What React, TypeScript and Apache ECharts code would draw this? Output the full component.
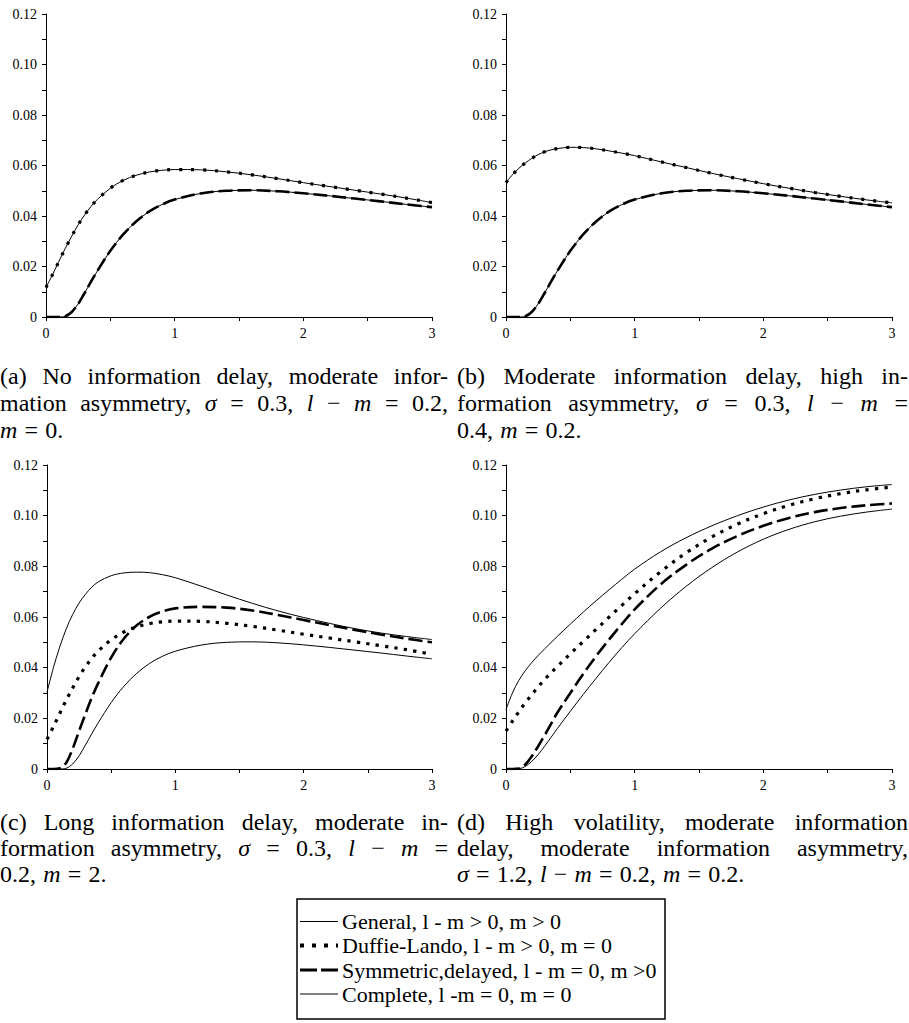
import React, { useEffect, useRef } from "react";
import * as echarts from "echarts";

// ---------- data ----------
const xs = [0, 0.05, 0.1, 0.15, 0.2, 0.25, 0.3, 0.35, 0.4, 0.5, 0.6, 0.7, 0.8, 0.9, 1.0, 1.2, 1.4, 1.6, 1.8, 2.0, 2.2, 2.4, 2.6, 2.8, 3.0];

const xTickLabels = ["0", "1", "2", "3"];
const yTickLabels = ["0", "0.02", "0.04", "0.06", "0.08", "0.10", "0.12"];

// Panel (a)
const aGeneral = [0.0117, 0.0167, 0.022, 0.0272, 0.032, 0.0365, 0.0404, 0.0438, 0.0466, 0.051, 0.0541, 0.0561, 0.0574, 0.0581, 0.0584, 0.0583, 0.0575, 0.0563, 0.0548, 0.0532, 0.0517, 0.0502, 0.0487, 0.0471, 0.0453];
const aDuffie = [0.0117, 0.0167, 0.022, 0.0272, 0.032, 0.0365, 0.0404, 0.0438, 0.0466, 0.051, 0.0541, 0.0561, 0.0574, 0.0581, 0.0584, 0.0583, 0.0575, 0.0563, 0.0548, 0.0532, 0.0517, 0.0502, 0.0487, 0.0471, 0.0453];
const aSymmetric = [0, 0, 0, 0.0003, 0.002, 0.0052, 0.0095, 0.014, 0.0183, 0.0262, 0.0327, 0.0378, 0.0417, 0.0445, 0.0465, 0.0489, 0.05, 0.0502, 0.0498, 0.049, 0.048, 0.0469, 0.0458, 0.0446, 0.0435];
const aComplete = [0, 0, 0, 0.0003, 0.002, 0.0052, 0.0095, 0.014, 0.0183, 0.0262, 0.0327, 0.0378, 0.0417, 0.0445, 0.0465, 0.0489, 0.05, 0.0502, 0.0498, 0.049, 0.048, 0.0469, 0.0458, 0.0446, 0.0435];

// Panel (b)
const bGeneral = [0.0533, 0.0563, 0.0589, 0.061, 0.0628, 0.0643, 0.0654, 0.0662, 0.0667, 0.0672, 0.0671, 0.0666, 0.0658, 0.0649, 0.0639, 0.0615, 0.0592, 0.0569, 0.0548, 0.0528, 0.051, 0.0493, 0.0478, 0.0464, 0.0452];
const bDuffie = [0.0533, 0.0563, 0.0589, 0.061, 0.0628, 0.0643, 0.0654, 0.0662, 0.0667, 0.0672, 0.0671, 0.0666, 0.0658, 0.0649, 0.0639, 0.0615, 0.0592, 0.0569, 0.0548, 0.0528, 0.051, 0.0493, 0.0478, 0.0464, 0.0452];
const bSymmetric = [0, 0, 0, 0.0003, 0.002, 0.0052, 0.0095, 0.014, 0.0183, 0.0262, 0.0327, 0.0378, 0.0417, 0.0445, 0.0465, 0.0489, 0.05, 0.0502, 0.0498, 0.049, 0.048, 0.0469, 0.0458, 0.0446, 0.0435];
const bComplete = [0, 0, 0, 0.0003, 0.002, 0.0052, 0.0095, 0.014, 0.0183, 0.0262, 0.0327, 0.0378, 0.0417, 0.0445, 0.0465, 0.0489, 0.05, 0.0502, 0.0498, 0.049, 0.048, 0.0469, 0.0458, 0.0446, 0.0435];

// Panel (c)
const cGeneral = [0.0303, 0.04, 0.0483, 0.0553, 0.061, 0.0655, 0.069, 0.0718, 0.0739, 0.0763, 0.0774, 0.0777, 0.0775, 0.0767, 0.0755, 0.0722, 0.0687, 0.0654, 0.0624, 0.0598, 0.0575, 0.0554, 0.0537, 0.0523, 0.0511];
const cDuffie = [0.0117, 0.0167, 0.022, 0.0272, 0.032, 0.0365, 0.0404, 0.0438, 0.0466, 0.051, 0.0541, 0.0561, 0.0574, 0.0581, 0.0584, 0.0583, 0.0575, 0.0563, 0.0548, 0.0532, 0.0517, 0.0502, 0.0487, 0.0471, 0.0453];
const cSymmetric = [0, 0, 0.0003, 0.0025, 0.008, 0.015, 0.0218, 0.0283, 0.034, 0.044, 0.0515, 0.0567, 0.0601, 0.0622, 0.0634, 0.064, 0.0637, 0.0626, 0.0608, 0.0588, 0.0568, 0.0549, 0.0531, 0.0515, 0.05];
const cComplete = [0, 0, 0, 0.0003, 0.002, 0.0052, 0.0095, 0.014, 0.0183, 0.0262, 0.0327, 0.0378, 0.0417, 0.0445, 0.0465, 0.0489, 0.05, 0.0502, 0.0498, 0.049, 0.048, 0.0469, 0.0458, 0.0446, 0.0435];

// Panel (d)
const dGeneral = [0.0235, 0.03, 0.035, 0.0388, 0.042, 0.0448, 0.0474, 0.0499, 0.0524, 0.0572, 0.0619, 0.0664, 0.0707, 0.0749, 0.0789, 0.0857, 0.0913, 0.096, 0.1, 0.1034, 0.1062, 0.1084, 0.1101, 0.1114, 0.1123];
const dDuffie = [0.015, 0.0189, 0.0226, 0.0261, 0.0293, 0.0324, 0.0353, 0.038, 0.0405, 0.0455, 0.0503, 0.0551, 0.0599, 0.0646, 0.0692, 0.0778, 0.0853, 0.0916, 0.0967, 0.1008, 0.1041, 0.1067, 0.1087, 0.1102, 0.1113];
const dSymmetric = [0, 0, 0.0002, 0.0018, 0.005, 0.009, 0.0133, 0.0178, 0.0223, 0.03, 0.0375, 0.0445, 0.051, 0.0572, 0.063, 0.0728, 0.0806, 0.087, 0.092, 0.096, 0.0991, 0.1014, 0.103, 0.1041, 0.1048];
const dComplete = [0, 0, 0.0001, 0.001, 0.003, 0.0057, 0.009, 0.0125, 0.016, 0.0228, 0.0294, 0.0358, 0.042, 0.0479, 0.0534, 0.0634, 0.0721, 0.0795, 0.0857, 0.0907, 0.0946, 0.0976, 0.0998, 0.1014, 0.1026];

const seriesNames = ["General, l - m > 0, m > 0", "Duffie-Lando, l - m > 0, m = 0", "Symmetric,delayed, l - m = 0, m >0", "Complete, l -m = 0, m = 0"];

const captionA = ["(a) No information delay, moderate infor-", "mation asymmetry, σ = 0.3, l − m = 0.2,", "m = 0."];
const captionB = ["(b) Moderate information delay, high in-", "formation asymmetry, σ = 0.3, l − m =", "0.4, m = 0.2."];
const captionC = ["(c) Long information delay, moderate in-", "formation asymmetry, σ = 0.3, l − m =", "0.2, m = 2."];
const captionD = ["(d) High volatility, moderate information", "delay, moderate information asymmetry,", "σ = 1.2, l − m = 0.2, m = 0.2."];

// ---------- layout ----------
const SERIF = "Liberation Serif";
const panels = [
  { left: 46, top: 14, width: 386, height: 303, data: [aGeneral, aDuffie, aSymmetric, aComplete], dot: [3, 9] },
  { left: 506, top: 14, width: 386, height: 303, data: [bGeneral, bDuffie, bSymmetric, bComplete], dot: [3, 9] },
  { left: 47, top: 465, width: 385, height: 304, data: [cGeneral, cDuffie, cSymmetric, cComplete], dot: [3.3, 6.2] },
  { left: 506, top: 465, width: 386, height: 304, data: [dGeneral, dDuffie, dSymmetric, dComplete], dot: [3.3, 6.2] },
];

const CAP_FONT = 24;
const captionLayout = [
  { lines: captionA, x0: 0, x1: 448, ys: [376, 403, 430] },
  { lines: captionB, x0: 457, x1: 908, ys: [376, 403, 430] },
  { lines: captionC, x0: 0, x1: 448, ys: [822, 848, 874] },
  { lines: captionD, x0: 457, x1: 908, ys: [822, 848, 874] },
];

const ITALIC = new Set(["σ", "l", "m"]);

function buildCaptionGraphics(): any[] {
  const canvas = document.createElement("canvas");
  const ctx = canvas.getContext("2d")!;
  const measure = (t: string, it: boolean) => {
    ctx.font = `${it ? "italic " : ""}${CAP_FONT}px "Liberation Serif"`;
    return ctx.measureText(t).width;
  };
  const out: any[] = [];
  captionLayout.forEach((cap) => {
    cap.lines.forEach((line, li) => {
      const toks = line.split(" ").map((t) => ({ t, it: ITALIC.has(t) }));
      const widths = toks.map((k) => measure(k.t, k.it));
      const sum = widths.reduce((a, b) => a + b, 0);
      const justify = li < 2;
      const gap = justify ? (cap.x1 - cap.x0 - sum) / (toks.length - 1) : CAP_FONT * 0.3;
      let x = cap.x0;
      toks.forEach((k, i) => {
        out.push({
          type: "text",
          x,
          y: cap.ys[li],
          silent: true,
          style: {
            text: k.t,
            fontSize: CAP_FONT,
            fontFamily: SERIF,
            fontStyle: k.it ? "italic" : "normal",
            fill: "#000",
            align: "left",
            verticalAlign: "middle",
          },
        });
        x += widths[i] + gap;
      });
    });
  });
  return out;
}

function buildLegendGraphics(): any[] {
  const bx = 297, by = 899, bw = 368, bh = 120;
  const rows = [921.5, 945.5, 970, 994];
  const dashes: any[] = [null, [4, 8], [17, 4], null];
  const widths = [1.2, 4, 3, 1.2];
  const out: any[] = [
    { type: "rect", shape: { x: bx, y: by, width: bw, height: bh }, style: { fill: "none", stroke: "#000", lineWidth: 1.5 }, silent: true },
  ];
  seriesNames.forEach((name, i) => {
    out.push({
      type: "line",
      shape: { x1: bx + 3, y1: rows[i], x2: bx + 41, y2: rows[i] },
      style: { stroke: "#000", lineWidth: widths[i], lineDash: dashes[i] || undefined, lineCap: "butt" },
      silent: true,
    });
    out.push({
      type: "text",
      x: bx + 45,
      y: rows[i],
      silent: true,
      style: { text: name, fontSize: 22, fontFamily: SERIF, fill: "#000", align: "left", verticalAlign: "middle" },
    });
  });
  return out;
}

export default function App() {
  const ref = useRef<HTMLDivElement>(null);
  useEffect(() => {
    if (!ref.current) return;
    const chart = echarts.init(ref.current, undefined, { renderer: "svg" });
    const axisCommon = {
      axisLine: { show: true, onZero: false, lineStyle: { color: "#000", width: 1 } },
      axisTick: { show: true, length: 4, lineStyle: { color: "#000", width: 1 } },
      minorTick: { show: true, splitNumber: 2, length: 4, lineStyle: { color: "#000", width: 1 } },
      splitLine: { show: false },
      minorSplitLine: { show: false },
    };
    const grids = panels.map((p) => ({ left: p.left, top: p.top, width: p.width, height: p.height, containLabel: false }));
    const xAxes = panels.map((_, i) => ({
      type: "value",
      gridIndex: i,
      min: 0,
      max: 3,
      interval: 1,
      ...axisCommon,
      axisLabel: {
        fontFamily: SERIF,
        fontSize: 14,
        color: "#000",
        margin: 9,
        formatter: (v: number) => xTickLabels[Math.round(v)] ?? "",
      },
    }));
    const yAxes = panels.map((_, i) => ({
      type: "value",
      gridIndex: i,
      min: 0,
      max: 0.12,
      interval: 0.02,
      ...axisCommon,
      axisLabel: {
        fontFamily: SERIF,
        fontSize: 14,
        color: "#000",
        margin: 9,
        formatter: (v: number) => yTickLabels[Math.round(v / 0.02)] ?? "",
      },
    }));
    const series: any[] = [];
    panels.forEach((p, i) => {
      const styles = [
        { width: 1, type: "solid" },
        { width: 3.2, type: p.dot },
        { width: 2.6, type: [14, 5] },
        { width: 1, type: "solid" },
      ];
      const order = [3, 0, 2, 1];
      order.forEach((k) => {
        series.push({
          name: seriesNames[k],
          type: "line",
          xAxisIndex: i,
          yAxisIndex: i,
          data: xs.map((x, j) => [x, p.data[k][j]]),
          showSymbol: false,
          symbol: "none",
          smooth: 0.35,
          lineStyle: { color: "#000", width: styles[k].width, type: styles[k].type, cap: "butt" },
          z: 2 + order.indexOf(k),
          silent: true,
        });
      });
    });
    chart.setOption({
      animation: false,
      backgroundColor: "#fff",
      grid: grids,
      xAxis: xAxes,
      yAxis: yAxes,
      series,
      graphic: [...buildCaptionGraphics(), ...buildLegendGraphics()],
    });
    return () => chart.dispose();
  }, []);
  return <div ref={ref} style={{ position: "absolute", left: 0, top: 0, width: 909, height: 1023, background: "#fff" }} />;
}
